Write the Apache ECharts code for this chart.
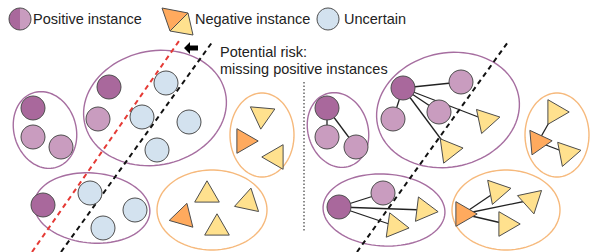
<!DOCTYPE html>
<html><head><meta charset="utf-8">
<script src="https://cdn.jsdelivr.net/npm/echarts@6/dist/echarts.min.js"></script>
<style>html,body{margin:0;padding:0;background:#fff}#c{width:594px;height:252px}</style>
</head><body><div id="c"></div>
<script>
// ---- data ----
const positiveNodes = [
  ['a1',33,108,'dark'],['a2',33,137,'light'],['a3',61,147,'light'],
  ['b1',109,87,'dark'],['b2',98,119,'light'],
  ['c1',43,205,'dark'],
  ['A1',327,108,'dark'],['A2',327,137,'light'],['A3',356,147,'light'],
  ['B1',403,88,'dark'],['B2',461,82,'light'],['B3',393,119,'light'],['B4',439,112,'light'],
  ['C1',339,207,'dark'],['C2',383,193,'light']
];
const uncertainNodes = [
  ['u1',166,83],['u2',142,117],['u3',189,122],['u4',157,150],
  ['u5',90,193],['u6',135,210],['u7',103,228]
];
// id, x, y, pointing direction (deg), shade
const negativeNodes = [
  ['n1',262,115,95,'light'],['n2',244,141,0,'dark'],['n3',276,157,180,'light'],
  ['n4',207,195,-90,'light'],['n5',248,202,-78,'light'],['n6',183,217,-74,'dark'],['n7',217,228,-90,'light'],
  ['B5',486,120,-12,'light'],['B6',449,150,-8,'light'],
  ['D1',555,112,0,'light'],['D2',538,142,-5,'dark'],['D3',567,153,-11,'light'],
  ['C3',424,210,7,'light'],['C4',395,226,8,'light'],
  ['E1',463,214,0,'dark'],['E2',497,191,-11,'light'],['E3',531,200,-42,'light'],['E4',506,224,0,'light']
];
// cx, cy, rx, ry, rotation, kind
const groups = [
  [45,130,31,39,-17,'pos'],[155,108,72,57,-12,'pos'],[262,135,32,42,0,'neg'],
  [92,208,58,35,5,'pos'],[212,210,55,40,0,'neg'],
  [338,130,30,38,-17,'pos'],[448,110,72,57,-12,'pos'],[557,135,32,42,0,'neg'],
  [384,210,61,36,3,'pos'],[506,210,54,40,0,'neg']
];
const links = [
  ['A1','A2'],['A1','A3'],
  ['B1','B2'],['B1','B3'],['B1','B4'],['B1','B5'],['B1','B6'],
  ['D2','D1'],['D2','D3'],
  ['C1','C2'],['C1','C3'],['C1','C4'],
  ['E1','E2'],['E1','E3'],['E1','E4']
];
const boundaryRed = [[32,252],[179,41]];
const boundaryLeft = [[61,252],[213,41]];
const boundaryRight = [[357,252],[508,42]];
const separator = [[304,82],[304,232]];
const arrowPos = [[191,48]];
const legendItems = [['Positive instance',20,19,'pos'],['Negative instance',178,21,'neg'],['Uncertain',328,19,'unc']];
const noteLines = ['Potential risk:','missing positive instances'];

// ---- styles ----
const C = {dark:'#A9689C', light:'#C99CBF', blue:'#D3E2EF', yel:'#FFE18E', ora:'#FFAA5E',
  stroke:'#4D4D4D', gPos:'#A66EA0', gNeg:'#F6B97C'};
const FONT = '"Liberation Sans", Arial, sans-serif';
const FS = '14.5px ';

const pos = {};
positiveNodes.forEach(n=>pos[n[0]]=[n[1],n[2]]);
uncertainNodes.forEach(n=>pos[n[0]]=[n[1],n[2]]);
negativeNodes.forEach(n=>pos[n[0]]=[n[1],n[2]]);

const chart = echarts.init(document.getElementById('c'), null, {renderer:'svg'});

function triPoints(c, r, deg){
  const a = deg*Math.PI/180, pts=[];
  for(let k=0;k<3;k++){const t=a+k*2*Math.PI/3; pts.push([c[0]+r*Math.cos(t), c[1]+r*Math.sin(t)]);}
  return pts;
}

chart.setOption({
  animation:false,
  grid:{left:0,right:0,top:0,bottom:0},
  xAxis:{type:'value',min:0,max:594,show:false},
  yAxis:{type:'value',min:0,max:252,inverse:true,show:false},
  series:[
    { // group ellipses
      type:'custom', silent:true, clip:false, z:1,
      data:groups.map(g=>[g[0],g[1]]),
      renderItem(params, api){
        const g = groups[params.dataIndex];
        const rot = g[4]*Math.PI/180, pts=[];
        for(let i=0;i<90;i++){
          const t=i/90*2*Math.PI;
          const x=g[0]+g[2]*Math.cos(t)*Math.cos(rot)-g[3]*Math.sin(t)*Math.sin(rot);
          const y=g[1]+g[2]*Math.cos(t)*Math.sin(rot)+g[3]*Math.sin(t)*Math.cos(rot);
          pts.push(api.coord([x,y]));
        }
        return {type:'polygon', shape:{points:pts}, style:{fill:'none', stroke:g[5]==='pos'?C.gPos:C.gNeg, lineWidth:1.4}};
      }
    },
    {type:'line', data:boundaryRed, symbol:'none', silent:true, z:2, lineStyle:{color:'#E53A35', width:2, type:[5,4]}},
    {type:'line', data:boundaryLeft, symbol:'none', silent:true, z:2, lineStyle:{color:'#111', width:2, type:[5,4]}},
    {type:'line', data:boundaryRight, symbol:'none', silent:true, z:2, lineStyle:{color:'#111', width:2, type:[5,4]}},
    {type:'line', data:separator, symbol:'none', silent:true, z:2, lineStyle:{color:'#666', width:1.5, type:[1.5,2]}},
    { // links
      type:'custom', silent:true, clip:false, z:3,
      data:links.map(l=>[pos[l[0]][0],pos[l[0]][1]]),
      renderItem(params, api){
        const l = links[params.dataIndex];
        const p1 = api.coord(pos[l[0]]), p2 = api.coord(pos[l[1]]);
        return {type:'line', shape:{x1:p1[0],y1:p1[1],x2:p2[0],y2:p2[1]}, style:{stroke:'#222', lineWidth:1.3}};
      }
    },
    { // positive
      type:'scatter', silent:true, z:4, symbolSize:24,
      data:positiveNodes.map(n=>({value:[n[1],n[2]], itemStyle:{color:n[3]==='dark'?C.dark:C.light}})),
      itemStyle:{borderColor:C.stroke, borderWidth:1, opacity:1}
    },
    { // uncertain
      type:'scatter', silent:true, z:4, symbolSize:24,
      data:uncertainNodes.map(n=>[n[1],n[2]]),
      itemStyle:{color:C.blue, borderColor:C.stroke, borderWidth:1, opacity:1}
    },
    { // negative triangles
      type:'custom', silent:true, clip:false, z:4,
      data:negativeNodes.map(n=>[n[1],n[2]]),
      renderItem(params, api){
        const n = negativeNodes[params.dataIndex];
        const c = api.coord([n[1],n[2]]);
        return {type:'polygon', shape:{points:triPoints(c,14.2,n[3])}, style:{fill:n[4]==='dark'?C.ora:C.yel, stroke:C.stroke, lineWidth:1}};
      }
    },
    { // arrow
      type:'custom', silent:true, clip:false, z:5,
      data:arrowPos,
      renderItem(params, api){
        const c = api.coord([api.value(0),api.value(1)]);
        const off=[[-7,0],[-1,-6],[-1,-2.5],[7,-2.5],[7,2.5],[-1,2.5],[-1,6]];
        return {type:'polygon', shape:{points:off.map(o=>[c[0]+o[0],c[1]+o[1]])}, style:{fill:'#000'}};
      }
    },
    { // legend
      type:'custom', silent:true, clip:false, z:5,
      data:legendItems.map(l=>[l[1],l[2]]),
      renderItem(params, api){
        const l = legendItems[params.dataIndex];
        const c = api.coord([l[1],l[2]]);
        const children=[];
        let tx, ty=c[1];
        if(l[3]==='pos'){
          children.push({type:'sector', shape:{cx:c[0],cy:c[1],r:11,startAngle:Math.PI/2,endAngle:Math.PI*1.5}, style:{fill:C.dark}});
          children.push({type:'sector', shape:{cx:c[0],cy:c[1],r:11,startAngle:-Math.PI/2,endAngle:Math.PI/2}, style:{fill:C.light}});
          children.push({type:'circle', shape:{cx:c[0],cy:c[1],r:11}, style:{fill:'none',stroke:C.stroke,lineWidth:1}});
          tx=c[0]+13;
        } else if(l[3]==='neg'){
          const v=[[-16,-13],[10,-8],[15,14],[-8,10]].map(o=>[c[0]+o[0],c[1]+o[1]]);
          children.push({type:'polygon', shape:{points:[v[0],v[1],v[3]]}, style:{fill:C.ora,stroke:C.stroke,lineWidth:1}});
          children.push({type:'polygon', shape:{points:[v[1],v[2],v[3]]}, style:{fill:C.yel,stroke:C.stroke,lineWidth:1}});
          tx=c[0]+17; ty=c[1]-2;
        } else {
          children.push({type:'circle', shape:{cx:c[0],cy:c[1],r:11}, style:{fill:C.blue,stroke:C.stroke,lineWidth:1}});
          tx=c[0]+16;
        }
        children.push({type:'text', style:{text:l[0], x:tx, y:ty, fill:'#222', font:FS+FONT, textVerticalAlign:'middle', verticalAlign:'middle'}});
        return {type:'group', children};
      }
    }
  ],
  graphic:[
    {type:'text', left:220, top:44, style:{text:noteLines[0], fill:'#222', font:FS+FONT}},
    {type:'text', left:220, top:61, style:{text:noteLines[1], fill:'#222', font:FS+FONT}}
  ]
});
</script></body></html>
